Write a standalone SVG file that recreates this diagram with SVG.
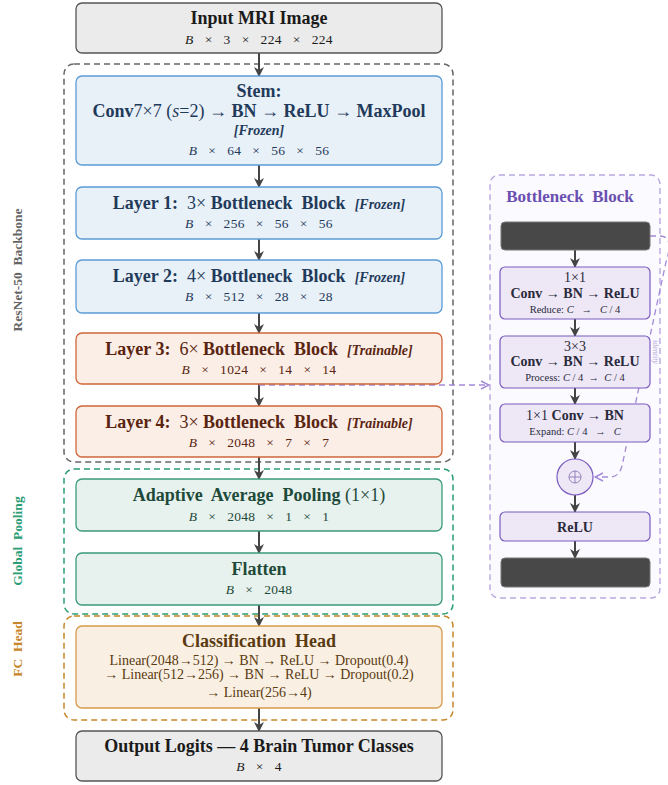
<svg xmlns="http://www.w3.org/2000/svg" width="668" height="785" viewBox="0 0 668 785">
<defs>
<style>
text{font-family:"Liberation Serif","DejaVu Serif",serif;text-anchor:middle;white-space:pre}
.t{font-size:18px;font-weight:bold}
.d{font-size:13.5px;letter-spacing:0.3px}
.i{font-style:italic}
.n{font-weight:normal}
.tag{font-size:14px;font-style:italic;font-weight:bold}
.gray rect{fill:#ebebeb;stroke:#555}
.gray text{fill:#1a1a1a}
.blue rect{fill:#e8f0f8;stroke:#5b9bd5}
.blue text{fill:#1f3a5a}
.org rect{fill:#fbeee6;stroke:#d0653a}
.org text{fill:#5a2410}
.grn rect{fill:#e7f2ee;stroke:#3a9a7a}
.grn text{fill:#1e4a3a}
.fc rect{fill:#f9efe2;stroke:#d69a4a}
.fc text{fill:#5a3a10}
.box{stroke-width:1.3}
.bn rect{fill:#ede7f6;stroke:#7b5cc0;stroke-width:1.2}
.bn text{fill:#2a2a3a}
.sm{font-size:10.5px}
.dark{fill:#484848;stroke:#777;stroke-width:1}
.arr{stroke:#444;stroke-width:2;fill:none;marker-end:url(#ah)}
.grp{fill:none;stroke-width:1.5;stroke-dasharray:6,4}
.side{font-size:13.5px;font-weight:bold}
</style>
<marker id="ah" viewBox="0 0 10 10" refX="9" refY="5" markerWidth="10" markerHeight="10" markerUnits="userSpaceOnUse" orient="auto">
<path d="M0,0 L10,5 L0,10 L3,5 z" fill="#444"/>
</marker>
<marker id="ph" viewBox="0 0 10 10" refX="9" refY="5" markerWidth="10" markerHeight="10" markerUnits="userSpaceOnUse" orient="auto">
<path d="M1,1 L9,5 L1,9" fill="none" stroke="#a48ad8" stroke-width="1.5"/>
</marker>
</defs>

<g id="groups">
<rect x="64" y="64" width="389" height="398" rx="10" class="grp" stroke="#666"/>
<rect x="64" y="469" width="389" height="145" rx="10" class="grp" stroke="#2a9d74"/>
<rect x="64" y="616" width="389" height="104" rx="10" class="grp" stroke="#c8862a"/>
<text class="side" transform="translate(22,270) rotate(-90)" fill="#666">ResNet-50  Backbone</text>
<text class="side" transform="translate(22,541) rotate(-90)" fill="#2a9d74">Global  Pooling</text>
<text class="side" transform="translate(22,649) rotate(-90)" fill="#c8862a">FC  Head</text>
</g>

<g id="bottleneck-panel">
<rect x="490" y="175" width="170" height="423" rx="9" fill="#fbfaff" stroke="#b9a8e0" stroke-width="1.4" stroke-dasharray="6,4"/>
<text x="570" y="202" font-size="17" font-weight="bold" fill="#6a4fb0">Bottleneck  Block</text>
</g>

<g id="connectors">
<path class="arr" d="M259,53 V76"/>
<path class="arr" d="M259,165 V187"/>
<path class="arr" d="M259,239 V260"/>
<path class="arr" d="M259,313 V333"/>
<path class="arr" d="M259,384 V406"/>
<path class="arr" d="M259,457 V479"/>
<path class="arr" d="M259,531 V553"/>
<path class="arr" d="M259,605 V626"/>
<path class="arr" d="M259,708 V731"/>
<path d="M259,385 H489" fill="none" stroke="#a48ad8" stroke-width="1.3" stroke-dasharray="6,4" marker-end="url(#ph)"/>
<text x="374" y="377" font-size="8" font-style="italic" fill="#b7a8dc">detail</text>
<path class="arr" d="M575,250 V267"/>
<path class="arr" d="M575,319 V336"/>
<path class="arr" d="M575,388 V404"/>
<path class="arr" d="M575,442 V459"/>
<path class="arr" d="M575,495 V512"/>
<path class="arr" d="M575,541 V558"/>
<path d="M650,236 H660 C672,236 670,250 666,262 L622,466 Q619,477 610,477 L595,477" fill="none" stroke="#a48ad8" stroke-width="1.3" stroke-dasharray="6,4" marker-end="url(#ph)"/>
<text transform="translate(653,352) rotate(90)" font-size="8" font-style="italic" fill="#b7a8dc">identity</text>
</g>

<g id="input" class="gray">
<rect class="box" x="76" y="3" width="366" height="50" rx="6"/>
<text x="259" y="24" class="t">Input MRI Image</text>
<text x="259" y="44" class="d"><tspan class="i">B</tspan>   ×   3   ×   224   ×   224</text>
</g>

<g id="stem" class="blue">
<rect class="box" x="76" y="76" width="366" height="89" rx="6"/>
<text x="259" y="97" class="t">Stem:</text>
<text x="259" y="117" class="t" font-size="17.5">Conv<tspan class="n">7×7 (<tspan class="i">s</tspan>=2) → </tspan>BN<tspan class="n"> → </tspan>ReLU<tspan class="n"> → </tspan>MaxPool</text>
<text x="259" y="135" class="tag">[Frozen]</text>
<text x="259" y="155" class="d"><tspan class="i">B</tspan>   ×   64   ×   56   ×   56</text>
</g>

<g id="layer1" class="blue">
<rect class="box" x="76" y="187" width="366" height="52" rx="6"/>
<text x="259" y="209" class="t">Layer 1:  <tspan class="n">3×</tspan> Bottleneck  Block  <tspan class="tag">[Frozen]</tspan></text>
<text x="259" y="228" class="d"><tspan class="i">B</tspan>   ×   256   ×   56   ×   56</text>
</g>

<g id="layer2" class="blue">
<rect class="box" x="76" y="260" width="366" height="53" rx="6"/>
<text x="259" y="282" class="t">Layer 2:  <tspan class="n">4×</tspan> Bottleneck  Block  <tspan class="tag">[Frozen]</tspan></text>
<text x="259" y="301" class="d"><tspan class="i">B</tspan>   ×   512   ×   28   ×   28</text>
</g>

<g id="layer3" class="org">
<rect class="box" x="76" y="333" width="366" height="51" rx="6"/>
<text x="259" y="355" class="t">Layer 3:  <tspan class="n">6×</tspan> Bottleneck  Block  <tspan class="tag">[Trainable]</tspan></text>
<text x="259" y="374" class="d"><tspan class="i">B</tspan>   ×   1024   ×   14   ×   14</text>
</g>

<g id="layer4" class="org">
<rect class="box" x="76" y="406" width="366" height="51" rx="6"/>
<text x="259" y="428" class="t">Layer 4:  <tspan class="n">3×</tspan> Bottleneck  Block  <tspan class="tag">[Trainable]</tspan></text>
<text x="259" y="447" class="d"><tspan class="i">B</tspan>   ×   2048   ×   7   ×   7</text>
</g>

<g id="avgpool" class="grn">
<rect class="box" x="76" y="479" width="366" height="52" rx="6"/>
<text x="259" y="501" class="t">Adaptive  Average  Pooling <tspan class="n">(1×1)</tspan></text>
<text x="259" y="521" class="d"><tspan class="i">B</tspan>   ×   2048   ×   1   ×   1</text>
</g>

<g id="flatten" class="grn">
<rect class="box" x="76" y="553" width="366" height="52" rx="6"/>
<text x="259" y="575" class="t">Flatten</text>
<text x="259" y="594" class="d"><tspan class="i">B</tspan>   ×   2048</text>
</g>

<g id="head" class="fc">
<rect class="box" x="76" y="626" width="366" height="82" rx="6"/>
<text x="259" y="647" class="t">Classification  Head</text>
<text x="259" y="665" font-size="14">Linear(2048→512) → BN → ReLU → Dropout(0.4)</text>
<text x="259" y="679" font-size="14">→ Linear(512→256) → BN → ReLU → Dropout(0.2)</text>
<text x="259" y="697" font-size="14">→ Linear(256→4)</text>
</g>

<g id="output" class="gray">
<rect class="box" x="76" y="731" width="366" height="50" rx="6"/>
<text x="259" y="752" class="t">Output Logits — 4 Brain Tumor Classes</text>
<text x="259" y="771" class="d"><tspan class="i">B</tspan>   ×   4</text>
</g>

<g id="bn-in">
<rect class="dark" x="501" y="222" width="149" height="28" rx="4"/>
</g>
<g id="bn-reduce" class="bn">
<rect x="500" y="267" width="150" height="52" rx="5"/>
<text x="575" y="282" font-size="14">1×1</text>
<text x="575" y="298" font-size="14" font-weight="bold">Conv<tspan font-weight="normal"> → </tspan>BN<tspan font-weight="normal"> → </tspan>ReLU</text>
<text x="575" y="313" class="sm">Reduce: <tspan font-style="italic">C</tspan>   →   <tspan font-style="italic">C</tspan> / 4</text>
</g>
<g id="bn-process" class="bn">
<rect x="500" y="336" width="150" height="52" rx="5"/>
<text x="575" y="351" font-size="14">3×3</text>
<text x="575" y="366" font-size="14" font-weight="bold">Conv<tspan font-weight="normal"> → </tspan>BN<tspan font-weight="normal"> → </tspan>ReLU</text>
<text x="575" y="381" class="sm">Process: <tspan font-style="italic">C</tspan> / 4  →  <tspan font-style="italic">C</tspan> / 4</text>
</g>
<g id="bn-expand" class="bn">
<rect x="500" y="404" width="150" height="38" rx="5"/>
<text x="575" y="420" font-size="14">1×1 <tspan font-weight="bold">Conv</tspan> → <tspan font-weight="bold">BN</tspan></text>
<text x="575" y="435" class="sm">Expand: <tspan font-style="italic">C</tspan> / 4   →   <tspan font-style="italic">C</tspan></text>
</g>
<g id="bn-add">
<circle cx="575" cy="477" r="18" fill="#ede7f6" stroke="#7b5cc0" stroke-width="1.2"/>
<circle cx="575" cy="477" r="6" fill="none" stroke="#8a78b8" stroke-width="0.9"/>
<path d="M569,477 H581 M575,471 V483" stroke="#8a78b8" stroke-width="0.9"/>
</g>
<g id="bn-relu" class="bn">
<rect x="500" y="512" width="150" height="29" rx="5"/>
<text x="575" y="532" font-size="14" font-weight="bold">ReLU</text>
</g>
<g id="bn-out">
<rect class="dark" x="501" y="558" width="149" height="29" rx="4"/>
</g>
</svg>
